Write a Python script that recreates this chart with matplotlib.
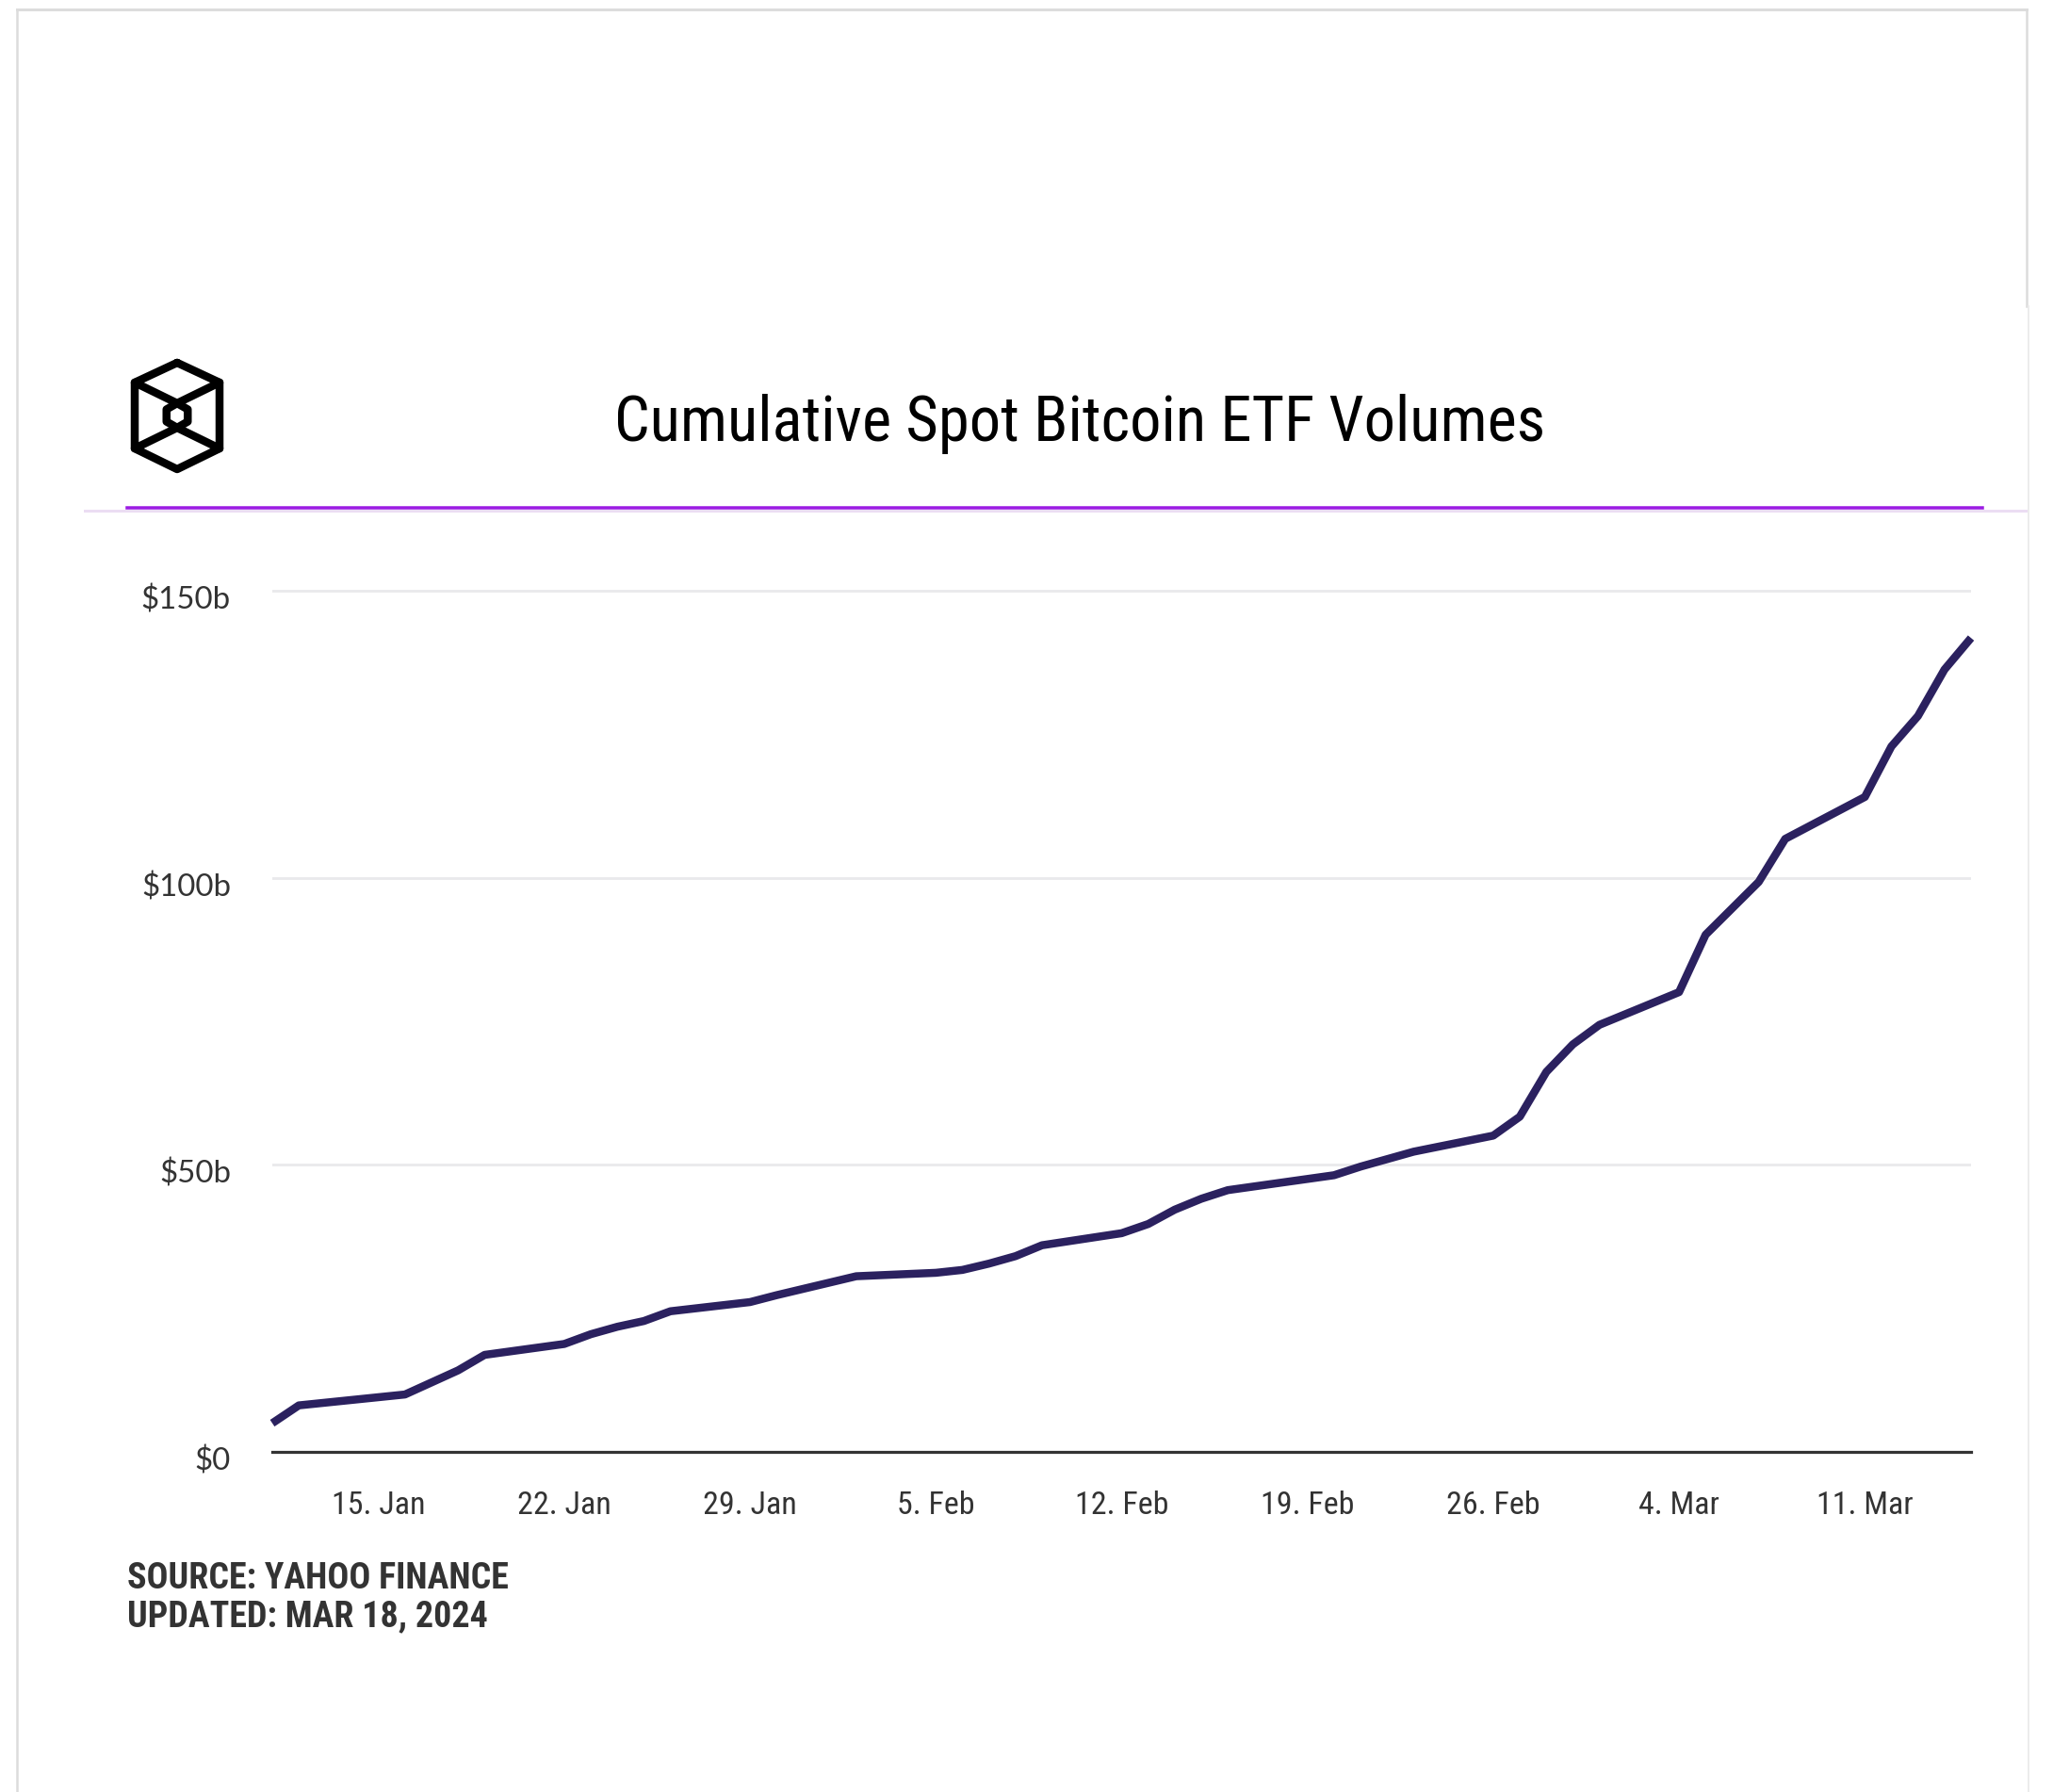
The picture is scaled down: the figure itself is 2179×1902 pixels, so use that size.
import matplotlib
matplotlib.use("Agg")
import matplotlib.pyplot as plt
import matplotlib.dates as mdates
from matplotlib import font_manager
from matplotlib.transforms import ScaledTranslation
from matplotlib.lines import Line2D
import pandas as pd

# ---------------- data ----------------
dates = ["2024-01-11", "2024-01-12", "2024-01-16", "2024-01-17", "2024-01-18",
         "2024-01-19", "2024-01-22", "2024-01-23", "2024-01-24", "2024-01-25",
         "2024-01-26", "2024-01-29", "2024-01-30", "2024-01-31", "2024-02-01",
         "2024-02-02", "2024-02-05", "2024-02-06", "2024-02-07", "2024-02-08",
         "2024-02-09", "2024-02-12", "2024-02-13", "2024-02-14", "2024-02-15",
         "2024-02-16", "2024-02-20", "2024-02-21", "2024-02-22", "2024-02-23",
         "2024-02-26", "2024-02-27", "2024-02-28", "2024-02-29", "2024-03-01",
         "2024-03-04", "2024-03-05", "2024-03-06", "2024-03-07", "2024-03-08",
         "2024-03-11", "2024-03-12", "2024-03-13", "2024-03-14", "2024-03-15"]
volumes_b = [5.0, 8.1, 10.0, 12.1, 14.2,
             16.9, 18.8, 20.5, 21.8, 22.8,
             24.5, 26.1, 27.3, 28.4, 29.5,
             30.6, 31.2, 31.7, 32.8, 34.1,
             36.0, 38.1, 39.7, 42.2, 44.1,
             45.6, 48.2, 49.7, 51.0, 52.3,
             55.1, 58.4, 66.2, 71.0, 74.4,
             80.1, 90.1, 94.7, 99.3, 106.8,
             114.1, 122.9, 128.2, 136.3, 141.8]
xtick_dates = ["2024-01-15", "2024-01-22", "2024-01-29", "2024-02-05", "2024-02-12",
               "2024-02-19", "2024-02-26", "2024-03-04", "2024-03-11"]
ytick_values = [0, 50, 100, 150]
ytick_labels = ["$0", "$50b", "$100b", "$150b"]
title = "Cumulative Spot Bitcoin ETF Volumes"
footer_lines = ["SOURCE: YAHOO FINANCE", "UPDATED: MAR 18, 2024"]

# ---------------- fonts ----------------
avail = {f.name for f in font_manager.fontManager.ttflist}
def pick(*names):
    for n in names:
        if n in avail:
            return n
    return "DejaVu Sans"
NARROW = pick("Liberation Sans Narrow", "Roboto Condensed", "Liberation Sans")
YFONT = pick("Lato", "Open Sans", "DejaVu Sans")

W, H = 2179, 1902
DPI = 100
fig = plt.figure(figsize=(W / DPI, H / DPI), dpi=DPI, facecolor="white")

def px(v):  # pixels -> points
    return v * 72.0 / DPI

# ---------------- main axes ----------------
x0, x1 = 289, 2092
y_zero, y_top = 1541, 615
ax = fig.add_axes([x0 / W, (H - y_zero) / H, (x1 - x0) / W, (y_zero - y_top) / H])
ax.set_facecolor("white")

d = pd.to_datetime(dates)
ax.plot(d, volumes_b, color="#2B215F", linewidth=px(8.5), solid_joinstyle="round",
        solid_capstyle="butt", zorder=3, clip_on=False)

ax.set_xlim(d[0], d[-1])
ax.set_ylim(0, 152)

ax.set_yticks(ytick_values)
ax.set_yticklabels(ytick_labels)
xt = pd.to_datetime(xtick_dates)
ax.set_xticks(xt)
ax.set_xticklabels([f"{t.day}. {t.strftime('%b')}" for t in xt])

for s in ["top", "right", "left"]:
    ax.spines[s].set_visible(False)
ax.spines["bottom"].set_color("#333333")
ax.spines["bottom"].set_linewidth(px(3.2))
ax.spines["bottom"].set_zorder(4)

ax.grid(axis="y", color="#E9E9EC", linewidth=px(2.8), zorder=0)
ax.grid(axis="x", visible=False)
ax.set_axisbelow(True)

ax.tick_params(axis="y", length=0, pad=px(44), labelsize=px(33), labelcolor="#333333")
ax.tick_params(axis="x", length=0, pad=px(41), labelsize=px(34), labelcolor="#333333")
for lab in ax.get_yticklabels():
    lab.set_fontfamily(YFONT)
    lab.set_transform(lab.get_transform() + ScaledTranslation(0, -7 / DPI, fig.dpi_scale_trans))
for lab in ax.get_xticklabels():
    lab.set_fontfamily(NARROW)

# ---------------- overlay (decorations) ----------------
ov = fig.add_axes([0, 0, 1, 1], zorder=-1)
ov.set_xlim(0, W)
ov.set_ylim(H, 0)
ov.axis("off")

# outer frame
ov.add_line(Line2D([18, 2151], [10, 10], color="#DCDCDC", linewidth=px(3)))
ov.add_line(Line2D([18, 18], [10, H], color="#DCDCDC", linewidth=px(2.5)))
ov.add_line(Line2D([2151, 2151], [10, 325], color="#DCDCDC", linewidth=px(2.5)))
ov.add_line(Line2D([2153, 2153], [325, H], color="#ECECEC", linewidth=px(2)))

# header rule
ov.add_line(Line2D([90, 2150], [542, 542], color="#EBDDF3", linewidth=px(3)))
ov.add_line(Line2D([135, 2104], [539, 539], color="#9B1BE3", linewidth=px(3.5)))

# logo (cube with inner hexagon)
cx, cy = 188, 441
lw_logo = px(8.5)
kw = dict(color="black", linewidth=lw_logo, solid_joinstyle="round", solid_capstyle="round")
outer_x = [188, 233, 233, 188, 143, 143, 188]
outer_y = [385, 406, 476, 498, 476, 406, 385]
ov.add_line(Line2D(outer_x, outer_y, **kw))
ov.add_line(Line2D([143, 188, 233], [406, 428, 406], **kw))
ov.add_line(Line2D([143, 188, 233], [476, 454, 476], **kw))
R = 13
hx = [cx, cx + 0.866 * R, cx + 0.866 * R, cx, cx - 0.866 * R, cx - 0.866 * R, cx]
hy = [cy - R, cy - R / 2, cy + R / 2, cy + R, cy + R / 2, cy - R / 2, cy - R]
ov.add_line(Line2D(hx, hy, **kw))

# title
fig.text(1146 / W, (H - 468) / H, title, ha="center", va="baseline",
         fontsize=px(66.5), color="black", fontfamily=NARROW)

# footer
fig.text(135 / W, (H - 1686) / H, footer_lines[0], ha="left", va="baseline",
         fontsize=px(38), color="#333333", fontfamily=NARROW, fontweight="bold")
fig.text(135 / W, (H - 1726) / H, footer_lines[1], ha="left", va="baseline",
         fontsize=px(38), color="#333333", fontfamily=NARROW, fontweight="bold")

fig.savefig("out.png", dpi=DPI, facecolor="white")
